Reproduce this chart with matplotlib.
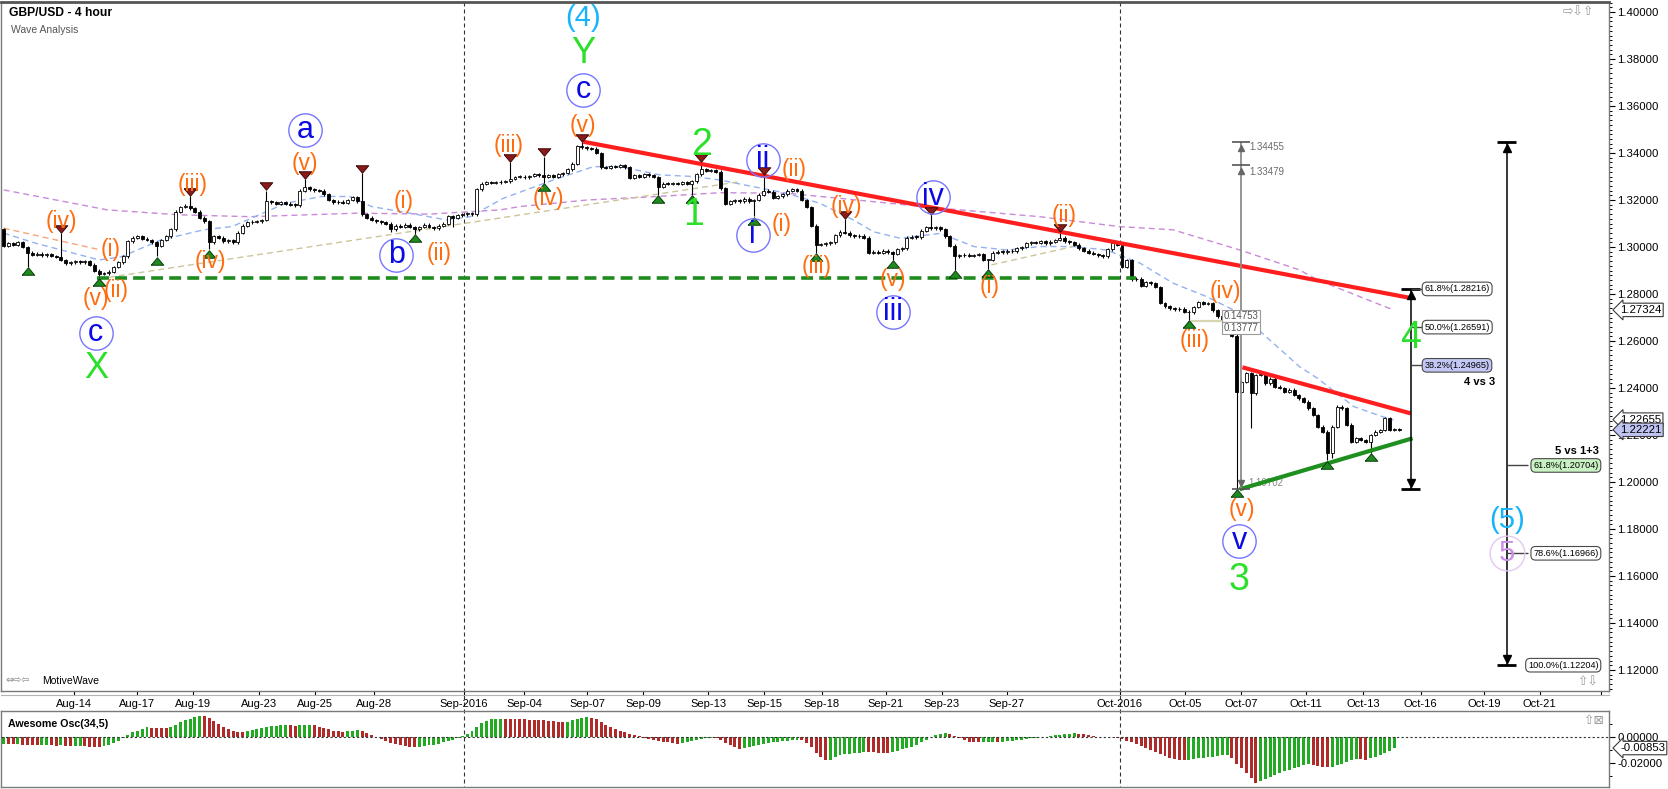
import matplotlib
matplotlib.use("Agg")
import matplotlib.pyplot as plt
import matplotlib.transforms as mtransforms
from matplotlib.lines import Line2D
from matplotlib.ticker import MultipleLocator, FixedLocator
import numpy as np

plt.rcParams['font.family'] = ['Liberation Sans', 'DejaVu Sans']

W, H = 1668, 789

# ---------------- price data: GBP/USD 4-hour bars ----------------
first_open = 1.3075
closes = [
    1.3005, 1.3015, 1.3010, 1.3020, 1.3000, 1.2975, 1.2968, 1.2972, 1.2965, 1.2970, 1.2962, 1.2958,
    1.2945, 1.2930, 1.2935, 1.2940, 1.2935, 1.2940, 1.2925, 1.2900, 1.2885, 1.2888, 1.2895, 1.2915,
    1.2935, 1.2960, 1.3025, 1.3040, 1.3045, 1.3035, 1.3030, 1.3020, 1.3005, 1.3030, 1.3045, 1.3075,
    1.3150, 1.3170, 1.3175, 1.3165, 1.3150, 1.3125, 1.3110, 1.3020, 1.3045, 1.3040, 1.3025, 1.3030,
    1.3020, 1.3060, 1.3090, 1.3105, 1.3108, 1.3110, 1.3115, 1.3195, 1.3190, 1.3185, 1.3190, 1.3185,
    1.3180, 1.3178, 1.3240, 1.3255, 1.3245, 1.3242, 1.3240, 1.3225, 1.3200, 1.3190, 1.3192, 1.3188,
    1.3200, 1.3212, 1.3195, 1.3140, 1.3125, 1.3115, 1.3110, 1.3105, 1.3100, 1.3075, 1.3090, 1.3085,
    1.3095, 1.3085, 1.3075, 1.3085, 1.3095, 1.3085, 1.3080, 1.3090, 1.3100, 1.3130, 1.3125, 1.3135,
    1.3140, 1.3145, 1.3140, 1.3245, 1.3270, 1.3275, 1.3272, 1.3275, 1.3278, 1.3280, 1.3290, 1.3298,
    1.3300, 1.3296, 1.3302, 1.3310, 1.3305, 1.3300, 1.3305, 1.3300, 1.3310, 1.3315, 1.3330, 1.3355,
    1.3430, 1.3425, 1.3420, 1.3418, 1.3400, 1.3340, 1.3338, 1.3345, 1.3342, 1.3348, 1.3340, 1.3295,
    1.3305, 1.3300, 1.3310, 1.3305, 1.3298, 1.3255, 1.3270, 1.3268, 1.3272, 1.3270, 1.3275, 1.3268,
    1.3280, 1.3310, 1.3330, 1.3325, 1.3328, 1.3320, 1.3250, 1.3185, 1.3195, 1.3200, 1.3195, 1.3205,
    1.3195, 1.3200, 1.3222, 1.3240, 1.3235, 1.3210, 1.3215, 1.3225, 1.3240, 1.3245, 1.3240, 1.3200,
    1.3170, 1.3090, 1.3010, 1.3012, 1.3015, 1.3020, 1.3050, 1.3065, 1.3060, 1.3050, 1.3045, 1.3048,
    1.3040, 1.2975, 1.2980, 1.2975, 1.2985, 1.2978, 1.2970, 1.2990, 1.2995, 1.3040, 1.3044, 1.3042,
    1.3070, 1.3085, 1.3080, 1.3085, 1.3075, 1.3045, 1.3005, 1.2960, 1.2965, 1.2968, 1.2962, 1.2966,
    1.2970, 1.2945, 1.2945, 1.2975, 1.2980, 1.2978, 1.2985, 1.2982, 1.2995, 1.3000, 1.3015, 1.3020,
    1.3018, 1.3025, 1.3015, 1.3022, 1.3030, 1.3040, 1.3025, 1.3020, 1.3010, 1.2995, 1.2985, 1.2975,
    1.2970, 1.2965, 1.2960, 1.2990, 1.3015, 1.3010,
    1.2915, 1.2945, 1.2862, 1.2865, 1.2835, 1.2850, 1.2845, 1.2830, 1.2762, 1.2748, 1.2740, 1.2735,
    1.2738, 1.2725, 1.2722, 1.2745, 1.2765, 1.2758, 1.2762, 1.2730, 1.2705, 1.2695, 1.2661, 1.2622,
    1.2384,  # flash crash bar
    1.2427, 1.2462, 1.2377, 1.2455, 1.2458, 1.2420, 1.2440, 1.2406, 1.2400, 1.2384, 1.2392, 1.2370,
    1.2356, 1.2342, 1.2314, 1.2285, 1.2236, 1.2214, 1.2122, 1.2236, 1.2321, 1.2314, 1.2243, 1.2172,
    1.2186, 1.2179, 1.2172, 1.2200, 1.2214, 1.2221, 1.2271, 1.2221, 1.2225, 1.2222,
]
# bars whose wicks stick out clearly
highs = {0: 1.3080, 12: 1.3059, 39: 1.3215, 55: 1.3240, 63: 1.3290, 75: 1.3315, 106: 1.3360,
         113: 1.3385, 121: 1.34455, 146: 1.3360, 159: 1.3306, 176: 1.3120, 194: 1.3136,
         221: 1.3064, 289: 1.2278}
lows = {5: 1.2915, 20: 1.2870, 32: 1.2960, 43: 1.2990, 81: 1.3065, 86: 1.3055, 94: 1.3085,
        113: 1.3272, 137: 1.3222, 144: 1.3222, 157: 1.3130, 170: 1.2976, 186: 1.2944,
        199: 1.2902, 206: 1.2906, 248: 1.2690, 258: 1.19702, 261: 1.2229, 277: 1.2092,
        278: 1.2100, 286: 1.2125}
swing_low_marks = [5, 20, 32, 43, 86, 113, 137, 144, 157, 170, 186, 199, 206, 248, 258, 277, 286]
swing_high_marks = [12, 39, 55, 63, 75, 106, 113, 121, 146, 159, 176, 194, 221]

# moving averages (knots)
ma_blue_bars = [0, 6.7, 20, 24.7, 32.9, 41.8, 47.8, 59, 66.5, 72.5, 77, 85, 92.7, 97.6, 104.5, 115,
                123.4, 129, 137.3, 144.3, 149.9, 156.8, 163.8, 170.8, 177.8, 182, 187.6, 196, 203,
                210, 216.8, 223.8, 230.8, 237.8, 244.7, 251.7, 258.7, 265.7, 271.2, 275, 282.5,
                288.5, 290.8]
ma_blue_vals = [1.3059, 1.3016, 1.2945, 1.2959, 1.3030, 1.3073, 1.3087, 1.3186, 1.3215, 1.3215,
                1.3172, 1.3144, 1.3115, 1.3129, 1.3207, 1.3285, 1.3342, 1.3342, 1.3307, 1.3300,
                1.3285, 1.3257, 1.3229, 1.3186, 1.3115, 1.3065, 1.3037, 1.3058, 1.3002, 1.2987,
                1.3002, 1.3002, 1.2987, 1.2931, 1.2846, 1.2789, 1.2718, 1.2590, 1.2490, 1.2440,
                1.2321, 1.2278, 1.2264]
ma_purple_bars = [0, 21.7, 36.6, 51.6, 74, 89, 103.9, 108, 122, 136, 149.9, 163.8, 175, 196, 216.8,
                  233.4, 244.7, 258.7, 271.2, 274.9, 290.8]
ma_purple_vals = [1.3243, 1.3158, 1.3137, 1.3129, 1.3144, 1.3140, 1.3158, 1.3172, 1.3200, 1.3214,
                  1.3231, 1.3229, 1.3207, 1.3165, 1.3129, 1.3087, 1.3073, 1.2987, 1.2902, 1.2860,
                  1.2732]
ma_orange_bars = [0, 20.2]
ma_orange_vals = [1.3080, 1.2988]
tan_bars = [22, 154]
tan_vals = [1.2871, 1.3278]
tan2_bars = [206.7, 223.8]
tan2_vals = [1.2924, 1.3002]
tan3_bars = [248.7, 257.5]
tan3_vals = [1.2687, 1.2687]

# trend lines
red1_bars, red1_vals = [121.3, 294.4], [1.3448, 1.2783]
red2_bars, red2_vals = [259.2, 294.4], [1.2488, 1.2292]
green_bars, green_vals = [258.6, 294.8], [1.1969, 1.2186]
support_level, support_from, support_to = 1.2866, 19.5, 237

# fibonacci projections
fib_a_bar, fib_a_lo, fib_a_hi = 294.4, 1.19702, 1.28216
fib_a_levels = [("61.8%", 1.28216, "white"), ("50.0%", 1.26591, "white"), ("38.2%", 1.24965, "#c3c7f3")]
fib_b_bar, fib_b_lo, fib_b_hi = 314.5, 1.12204, 1.34455
fib_b_levels = [("61.8%", 1.20704, "#c9f1c3"), ("78.6%", 1.16966, "white"), ("100.0%", 1.12204, "white")]
ruler_bar, ruler_lo, ruler_hi, ruler_mid = 258.9, 1.19702, 1.34455, 1.33479

# wave labels
orange_labels = [("(iv)", 12, 1.3108), ("(i)", 22.4, 1.2988), ("(ii)", 23.5, 1.2817), ("(v)", 19.4, 1.2782),
                 ("(iii)", 39.6, 1.3264), ("(iv)", 43.2, 1.2938), ("(v)", 63.1, 1.3356), ("(i)", 83.7, 1.3193),
                 ("(ii)", 91.1, 1.2973), ("(iii)", 105.6, 1.3430), ("(iv)", 113.9, 1.3207), ("(v)", 121.3, 1.3519),
                 ("(ii)", 165.5, 1.3328), ("(i)", 162.8, 1.3094), ("(iii)", 170.2, 1.2917), ("(iv)", 176.4, 1.3172),
                 ("(v)", 186, 1.2860), ("(i)", 206.4, 1.2832), ("(ii)", 221.9, 1.3136), ("(iii)", 249.1, 1.2604),
                 ("(iv)", 255.7, 1.2810), ("(v)", 259, 1.1881)]
blue_labels = [("c", 19.3, 1.2634), ("a", 63.1, 1.3498), ("b", 82.2, 1.2966), ("c", 121.3, 1.3668),
               ("ii", 158.9, 1.3370), ("i", 156.7, 1.3051), ("iii", 186, 1.2725), ("iv", 194.4, 1.3214),
               ("v", 258.5, 1.1748)]
green_labels = [("X", 19.3, 1.2481), ("Y", 121.2, 1.3825), ("1", 144.3, 1.3136), ("2", 146, 1.3434),
                ("3", 258.5, 1.1583), ("4", 294.4, 1.2611)]
cyan_labels = [("(4)", 121.2, 1.3974), ("(5)", 314.5, 1.1838)]
purple_labels = [("5", 314.5, 1.1698)]

# x axis
tick_bars = [14.8, 27.9, 39.6, 53.4, 65.1, 77.5, 96.3, 108.9, 122.1, 133.8, 147.4, 159.1, 171.2,
             184.6, 196.3, 209.9, 233.5, 247.2, 258.9, 272.5, 284.4, 296.5, 309.7, 321.4, 334.2]
tick_labels = ['Aug-14', 'Aug-17', 'Aug-19', 'Aug-23', 'Aug-25', 'Aug-28', 'Sep-2016', 'Sep-04',
               'Sep-07', 'Sep-09', 'Sep-13', 'Sep-15', 'Sep-18', 'Sep-21', 'Sep-23', 'Sep-27',
               'Oct-2016', 'Oct-05', 'Oct-07', 'Oct-11', 'Oct-13', 'Oct-16', 'Oct-19', 'Oct-21', '']
month_starts = [96.3, 233.5]

# Awesome Oscillator (34,5), in thousandths
ao_milli = [
    -5.0, -5.4, -5.6, -5.5, -5.8, -6.2, -6.4, -6.5, -6.2, -6.0, -6.3, -6.6,
    -6.5, -6.8, -7.0, -6.8, -6.6, -7.0, -7.4, -7.6, -7.8, -7.3, -6.0, -4.5,
    -2.8, -1.0, 1.5, 3.5, 5.0, 6.4, 7.4, 7.2, 7.1, 7.0, 6.9, 8.0,
    9.5, 11.2, 12.8, 14.2, 15.6, 16.0, 15.8, 14.5, 12.5, 10.0, 7.5, 6.0,
    5.0, 4.2, 3.8, 4.5, 5.5, 6.5, 7.2, 7.8, 8.3, 8.6, 8.9, 9.1,
    9.0, 8.8, 8.9, 9.1, 9.3, 9.0, 8.0, 7.0, 6.0, 5.0, 4.3, 3.8,
    4.5, 5.0, 5.2, 4.8, 3.0, 1.5, 0.0, -1.5, -3.0, -4.5, -5.5, -6.5,
    -7.2, -7.6, -7.8, -7.5, -7.0, -6.5, -6.0, -5.0, -4.0, -3.0, -2.0, -1.0,
    0.5, 2.5, 5.0, 8.0, 10.5, 12.5, 13.5, 14.0, 14.1, 14.0, 13.9, 13.8,
    13.7, 13.6, 13.4, 13.2, 13.0, 12.8, 12.5, 12.2, 11.6, 11.2, 11.8, 12.8,
    13.8, 14.6, 15.2, 15.0, 13.5, 11.5, 9.5, 7.5, 6.0, 4.5, 3.5, 2.5,
    1.5, 0.5, -0.5, -1.5, -2.2, -3.0, -3.6, -4.2, -4.8, -5.2, -4.8, -4.0,
    -3.2, -2.4, -1.5, -0.8, -0.6, -1.0, -2.5, -4.5, -6.5, -8.0, -9.0, -8.8,
    -8.0, -7.0, -6.0, -5.0, -4.5, -4.0, -3.5, -3.2, -3.0, -2.5, -2.0, -2.5,
    -4.5, -8.0, -12.0, -15.5, -17.8, -17.5, -15.0, -13.5, -13.0, -12.8, -12.5, -12.0,
    -11.3, -11.5, -11.8, -12.0, -12.2, -12.3, -11.5, -10.5, -9.5, -8.5, -7.5, -6.0,
    -4.0, -2.0, 0.0, 1.5, 2.5, 2.8, 2.0, 0.5, -1.0, -2.5, -3.8, -4.0,
    -4.2, -4.0, -3.8, -3.6, -4.0, -3.5, -3.0, -2.8, -2.5, -2.0, -1.5, -1.0,
    -0.6, -0.3, 0.3, 0.8, 1.2, 1.6, 2.2, 2.6, 3.0, 2.6, 2.0, 1.2,
    0.6, 0.2, -0.3, 0.0, 0.3, -0.5, -1.5, -2.8, -4.0, -5.5, -7.0, -8.5,
    -10.0, -11.5, -13.0, -14.5, -15.8, -16.8, -17.4, -17.8, -17.5, -17.0, -16.5, -16.0,
    -15.5, -15.0, -14.5, -14.0, -13.8, -16.0, -20.5, -24.0, -28.0, -31.5, -35.0, -33.5,
    -32.0, -30.5, -29.0, -27.8, -26.5, -25.3, -24.0, -22.8, -21.6, -20.6, -21.2, -22.0,
    -22.8, -23.4, -23.0, -21.8, -20.5, -19.2, -18.0, -17.0, -17.2, -17.4, -16.5, -15.0,
    -13.5, -12.0, -10.5, -8.5,
]

ORANGE = '#ff6c0e'
BLUE = '#0a0ae6'
GREEN = '#2ae02a'
CYAN = '#17b4fa'


def fx(px):
    return px / W


def fy(py):
    return 1 - py / H


fig = plt.figure(figsize=(W / 100, H / 100), dpi=100)
ax = fig.add_axes([fx(1), fy(691), fx(1608), 689 / H])
osc = fig.add_axes([fx(1), fy(787), fx(1608), 76 / H])
for a in (ax, osc):
    a.set_xlim(-0.55, 335.9)
    a.patch.set_visible(False)
    for s in a.spines.values():
        s.set_color('#7a7a7a')
        s.set_linewidth(1)
ax.spines['top'].set_color('#555555')
ax.spines['top'].set_linewidth(2)
ax.set_ylim(1.11106, 1.40426)
osc.set_ylim(-0.03846, 0.02)

# ---- moving averages and helper lines ----
ax.plot(ma_purple_bars, ma_purple_vals, color='#c98ad8', lw=1, dashes=(4.3, 2.9), zorder=2)
ax.plot(ma_blue_bars, ma_blue_vals, color='#93b2ee', lw=1, dashes=(4.3, 2.9), zorder=2)
ax.plot(ma_orange_bars, ma_orange_vals, color='#f6a57c', lw=1, dashes=(4.3, 2.9), zorder=2)
ax.plot(tan_bars, tan_vals, color='#cdc59a', lw=1, dashes=(4.3, 2.9), zorder=2)
ax.plot(tan2_bars, tan2_vals, color='#cdc59a', lw=1, dashes=(4.3, 2.9), zorder=2)
ax.plot(tan3_bars, tan3_vals, color='#d9d5b2', lw=1.6, zorder=2)

# ---- candles ----
c = np.array(closes)
o = np.concatenate([[first_open], c[:-1]])
hi = np.maximum(o, c) + 0.0006
lo = np.minimum(o, c) - 0.0006
for k, v in highs.items():
    hi[k] = v
for k, v in lows.items():
    lo[k] = v
idx = np.arange(len(c))
up = c >= o
ax.vlines(idx, lo, hi, color='black', lw=0.8, zorder=3)
ax.bar(idx, np.maximum(np.abs(c - o), 0.0003), bottom=np.minimum(o, c), width=0.62,
       color=np.where(up, 'white', 'black'), edgecolor='black', linewidth=0.6, zorder=4)

# ---- trend lines ----
ax.hlines(support_level, support_from, support_to, colors='#1d8c1d', lw=2.6,
          linestyles=(0, (3.3, 1.7)), zorder=4)
ax.plot(red1_bars, red1_vals, color='#ff1e1e', lw=3, solid_capstyle='butt', zorder=5)
ax.plot(red2_bars, red2_vals, color='#ff1e1e', lw=3, solid_capstyle='butt', zorder=5)
ax.plot(green_bars, green_vals, color='#1f901f', lw=3, solid_capstyle='butt', zorder=5)

# ---- swing markers ----
tri_up = [(-1, -0.6), (1, -0.6), (0, 0.6), (-1, -0.6)]
tri_dn = [(-1, 0.6), (1, 0.6), (0, -0.6), (-1, 0.6)]
ax.plot(swing_low_marks, lo[swing_low_marks] - 0.0018, ls='none', marker=tri_up, ms=9,
        mfc='#1f8a1f', mec='#0a3d0a', mew=0.7, zorder=6)
ax.plot(swing_high_marks, hi[swing_high_marks] + 0.0018, ls='none', marker=tri_dn, ms=9,
        mfc='#8b1a1a', mec='#3d0a0a', mew=0.7, zorder=6)

# ---- measuring ruler over the crash ----
ax.vlines(ruler_bar, ruler_lo, ruler_hi, colors='#8c8c8c', lw=1.3, zorder=5)
for lvl in (ruler_hi, ruler_mid):
    ax.hlines(lvl, ruler_bar - 1.9, ruler_bar + 1.9, colors='#555555', lw=1.2, zorder=6)
    ax.plot(ruler_bar, lvl - 0.0024, marker='^', ms=5, color='#666666', zorder=6)
ax.hlines(ruler_lo, ruler_bar - 1.9, ruler_bar + 1.9, colors='#555555', lw=1.2, zorder=6)
ax.plot(ruler_bar, ruler_lo + 0.0024, marker='v', ms=5, color='#666666', zorder=6)
ax.text(ruler_bar + 1.7, ruler_hi - 0.0021, '1.34455', fontsize=7, color='#6a6a6a', va='center')
ax.text(ruler_bar + 1.7, ruler_mid - 0.0030, '1.33479', fontsize=7, color='#6a6a6a', va='center')
ax.text(ruler_bar + 1.5, ruler_lo + 0.0025, '1.19702', fontsize=7, color='#8a8a8a', va='center', zorder=4)
box = dict(boxstyle='square,pad=0.15', fc='white', ec='#9a9a9a', lw=0.8)
ax.text(255.3, 1.27064, '0.14753', fontsize=7, color='#555555', va='center', bbox=box, zorder=7)
ax.text(255.3, 1.26553, '0.13777', fontsize=7, color='#555555', va='center', bbox=box, zorder=7)

# ---- fibonacci projections ----
for bar, lo_v, hi_v in ((fib_a_bar, fib_a_lo, fib_a_hi), (fib_b_bar, fib_b_lo, fib_b_hi)):
    ax.vlines(bar, lo_v, hi_v, colors='black', lw=1.1, zorder=5)
    ax.hlines([lo_v, hi_v], bar - 2.0, bar + 2.0, colors='black', lw=2, zorder=5)
    ax.plot(bar, hi_v - 0.0026, marker='^', ms=6, color='black', zorder=6)
    ax.plot(bar, lo_v + 0.0026, marker='v', ms=6, color='black', zorder=6)

for name, lvl, fc in fib_a_levels:
    ax.hlines(lvl, fib_a_bar, 296.8, colors='#444444', lw=1, zorder=5)
    ax.text(297.3, lvl, f'{name}({lvl:.5f})', fontsize=6.6, ha='left', va='center', zorder=7,
            bbox=dict(boxstyle='round,pad=0.25,rounding_size=0.5', fc=fc, ec='#4a4a4a', lw=0.8))
for name, lvl, fc in fib_b_levels:
    if lvl != fib_b_lo:
        ax.hlines(lvl, fib_b_bar, 319.0, colors='#444444', lw=1, zorder=5)
    ax.text(333.7, lvl, f'{name}({lvl:.5f})', fontsize=6.6, ha='right', va='center', zorder=7,
            bbox=dict(boxstyle='round,pad=0.25,rounding_size=0.5', fc=fc, ec='#4a4a4a', lw=0.8))
ax.text(312.0, 1.24255, '4 vs 3', fontsize=8, fontweight='bold', ha='right', va='center')
ax.text(333.7, 1.21319, '5 vs 1+3', fontsize=8, fontweight='bold', ha='right', va='center')

# ---- wave labels ----
for s, b, p in orange_labels:
    ax.text(b, p, s, color=ORANGE, fontsize=16.5, ha='center', va='center', zorder=8)
for s, b, p in blue_labels:
    ax.plot(b, p, 'o', ms=24, mfc='none', mec='#7676ff', mew=1.0, zorder=8)
    ax.text(b, p, s, color=BLUE, fontsize=22, ha='center', va='center', zorder=8)
for s, b, p in green_labels:
    ax.text(b, p, s, color=GREEN, fontsize=26 if s in 'XY' else 27, ha='center', va='center', zorder=8)
for s, b, p in cyan_labels:
    ax.text(b, p, s, color=CYAN, fontsize=21, ha='center', va='center', zorder=8)
for s, b, p in purple_labels:
    ax.plot(b, p, 'o', ms=25, mfc='none', mec='#e4c8f3', mew=1.0, zorder=8)
    ax.text(b, p, s, color='#c990e6', fontsize=21, ha='center', va='center', zorder=8)

# ---- price axis ----
ax.yaxis.tick_right()
ax.yaxis.set_major_locator(FixedLocator(np.round(np.arange(1.12, 1.4001, 0.02), 2)))
ax.yaxis.set_major_formatter(plt.FuncFormatter(lambda v, _: f'{v:.5f}'))
ax.yaxis.set_minor_locator(MultipleLocator(0.002))
ax.tick_params(axis='y', which='major', direction='out', length=4, width=0.8, pad=2, labelsize=8.2)
ax.tick_params(axis='y', which='minor', direction='out', length=2.5, width=0.7)
ax.set_xticks(tick_bars)
ax.set_xticklabels(tick_labels)
ax.tick_params(axis='x', direction='out', length=3, width=0.8, pad=3, labelsize=8)

trans = mtransforms.blended_transform_factory(ax.transAxes, ax.transData)
tag = dict(boxstyle='larrow,pad=0.15', fc='white', ec='#3a3a3a', lw=0.8)
for lvl, fc in ((1.27324, 'white'), (1.22655, 'white'), (1.22221, '#bfc3f2')):
    t = dict(tag, fc=fc)
    ax.annotate(f'{lvl:.5f}', xy=(1.0, lvl), xycoords=trans, xytext=(8, 0), textcoords='offset points',
                fontsize=8.2, ha='left', va='center', bbox=t, annotation_clip=False, zorder=9)

# ---- Awesome Oscillator ----
ao = np.array(ao_milli) / 1000.0
ao_colors = ['#22aa22'] + ['#22aa22' if ao[i] > ao[i - 1] else '#b02a2a' for i in range(1, len(ao))]
osc.bar(np.arange(len(ao)), ao, width=0.62, color=ao_colors, linewidth=0, zorder=3)
osc.axhline(0, color='#333333', lw=0.8, dashes=(2, 2), zorder=4)
osc.set_xticks([])
osc.yaxis.tick_right()
osc.set_yticks([0, -0.02])
osc.set_yticklabels(['0.00000', '-0.02000'])
osc.yaxis.set_minor_locator(FixedLocator([0.01, -0.01, -0.03]))
osc.tick_params(axis='y', which='major', direction='out', length=4, width=0.8, pad=2, labelsize=8.2)
osc.tick_params(axis='y', which='minor', direction='out', length=2.5, width=0.7)
otrans = mtransforms.blended_transform_factory(osc.transAxes, osc.transData)
osc.annotate(f'{ao[-1] - 0.00003:.5f}', xy=(1.0, ao[-1]), xycoords=otrans, xytext=(8, 0),
             textcoords='offset points', fontsize=8.2, ha='left', va='center', bbox=tag,
             annotation_clip=False, zorder=9)

# ---- month separators through all panels ----
for b in month_starts:
    xf = ax.transData.transform((b, 1.3))[0] / W
    fig.add_artist(Line2D([xf, xf], [fy(2), fy(787)], color='#333333', lw=0.8,
                          dashes=(3.6, 2.7), zorder=-1))
fig.add_artist(Line2D([fx(1), fx(1609)], [fy(694.5), fy(694.5)], color='#b4b4b4', lw=0.8))

# ---- header texts and small icons ----
fig.text(fx(9), fy(13), 'GBP/USD - 4 hour', fontsize=8.7, fontweight='bold', va='center')
fig.text(fx(11), fy(30), 'Wave Analysis', fontsize=7.5, color='#555555', va='center')
fig.text(fx(8), fy(724), 'Awesome Osc(34,5)', fontsize=7.7, fontweight='bold', va='center')
fig.text(fx(5), fy(681), '⇔⇨⇦', fontsize=7, color='#8a8a8a', va='center', family='DejaVu Sans')
fig.text(fx(42), fy(681), 'MotiveWave', fontsize=7.5, va='center')
fig.text(fx(1563), fy(12), '⇨⇩⇧', fontsize=9, color='#9a9a9a', va='center', family='DejaVu Sans')
fig.text(fx(1578), fy(682), '⇧⇩', fontsize=9, color='#9a9a9a', va='center', family='DejaVu Sans')
fig.text(fx(1584), fy(720), '⇧⊠', fontsize=9, color='#9a9a9a', va='center', family='DejaVu Sans')

fig.savefig('out.png', dpi=100)
